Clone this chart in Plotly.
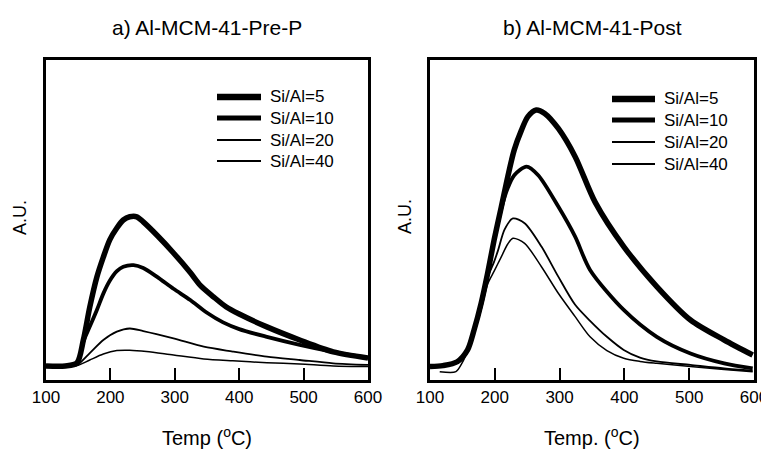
import plotly.graph_objects as go

# ---------------- data ----------------
series_names = ["Si/Al=5", "Si/Al=10", "Si/Al=20", "Si/Al=40"]

# a) Al-MCM-41-Pre-P
T_a5 = [100, 130, 148, 158, 168, 179, 189, 199, 210, 220, 230, 241, 251, 272, 298, 324, 340, 360, 380, 400, 443, 494, 546, 600]
A_a5 = [4.4, 4.4, 5.3, 12.5, 22.8, 32.2, 38.4, 43.8, 47.5, 50, 51, 51, 49.4, 45.3, 39.7, 33.6, 29.5, 26, 22.8, 20.6, 16.6, 12.5, 8.8, 6.9]
T_a10 = [100, 130, 148, 158, 168, 179, 189, 199, 210, 220, 236, 251, 272, 298, 324, 350, 375, 400, 443, 494, 546, 600]
A_a10 = [4.4, 4.4, 5.3, 12, 16.7, 21.9, 27, 31, 34, 35.4, 35.9, 35, 32.3, 28.5, 25, 21, 18, 15.9, 13.5, 11, 8.8, 6.9]
T_a20 = [100, 140, 148, 168, 189, 210, 230, 251, 298, 345, 390, 443, 494, 546, 600]
A_a20 = [4.4, 4.4, 4.6, 8.4, 12.5, 15.1, 16.1, 15.3, 13, 10.4, 8.9, 7.3, 6.25, 5.2, 4.7]
T_a40 = [100, 140, 150, 168, 189, 210, 230, 256, 298, 345, 390, 443, 494, 546, 600]
A_a40 = [4.4, 4.4, 4.6, 6.25, 8.1, 9.2, 9.3, 8.9, 7.8, 6.6, 6.0, 5.4, 5.0, 4.4, 4.2]

# b) Al-MCM-41-Post
T_b5 = [100, 120, 142, 158, 168, 179, 189, 199, 210, 220, 230, 241, 251, 264, 277, 298, 324, 355, 399, 450, 502, 554, 598]
A_b5 = [4.2, 4.5, 5.7, 9.4, 15.6, 24, 33.4, 43.8, 54, 63.5, 71.9, 78, 82.3, 84.4, 83.3, 78.6, 69.8, 55.5, 41.7, 29.2, 18.75, 12.5, 7.8]
T_b10 = [100, 120, 142, 158, 168, 179, 189, 199, 212, 220, 230, 249, 267, 298, 324, 347, 399, 450, 502, 554, 598]
A_b10 = [4.2, 4.5, 5.7, 9.4, 15.6, 24, 33.4, 43.8, 55, 60, 64, 66.7, 64, 54.2, 44.8, 34.4, 21.9, 13.5, 8.3, 5.2, 3.6]
T_b20 = [100, 120, 142, 158, 168, 179, 189, 199, 205, 215, 228, 246, 272, 298, 324, 347, 373, 399, 424, 450, 502, 554, 598]
A_b20 = [4.2, 4.5, 5.7, 9.4, 15.6, 24, 32, 37, 40.5, 47, 50.5, 49, 41.7, 32.3, 23.5, 18.5, 13.5, 9.4, 7, 5.8, 4.7, 3.6, 2.9]
T_b40 = [115, 140, 150, 158, 168, 179, 189, 199, 210, 220, 228, 246, 272, 298, 324, 347, 373, 399, 424, 450, 502, 554, 598]
A_b40 = [2.6, 2.6, 5.5, 9, 14.5, 22, 30, 34, 38.5, 42.5, 44.3, 42.7, 35.4, 27.1, 19.8, 13.5, 9.2, 6.8, 5.8, 5.2, 4.2, 3.3, 2.6]

x_ticks = [100, 200, 300, 400, 500, 600]
panel_titles = ["a) Al-MCM-41-Pre-P", "b) Al-MCM-41-Post"]
x_titles = ["Temp (<sup>o</sup>C)", "Temp. (<sup>o</sup>C)"]
y_title = "A.U."

# styles
curve_widths = [5.5, 3.8, 1.8, 1.5]
legend_widths = [6.5, 4.8, 2, 2]
FONT = "Arial, Liberation Sans, sans-serif"

# The page body has an 8px margin, so the figure is sized to the remaining
# window and every reference pixel position is shifted by that offset.
OFF = 8
W, H = 769 - OFF, 450 - OFF


def px(x):
    return (x - OFF) / W


def py(y):
    return 1 - (y - OFF) / H


fig = go.Figure()
left = [(T_a5, A_a5), (T_a10, A_a10), (T_a20, A_a20), (T_a40, A_a40)]
right = [(T_b5, A_b5), (T_b10, A_b10), (T_b20, A_b20), (T_b40, A_b40)]
for i, (t, a) in enumerate(left):
    fig.add_trace(go.Scatter(x=t, y=a, mode="lines", name=series_names[i], showlegend=False,
                             line=dict(color="black", width=curve_widths[i], shape="spline",
                                       smoothing=0.8),
                             xaxis="x", yaxis="y"))
for i, (t, a) in enumerate(right):
    fig.add_trace(go.Scatter(x=t, y=a, mode="lines", name=series_names[i], showlegend=False,
                             line=dict(color="black", width=curve_widths[i], shape="spline",
                                       smoothing=0.8),
                             xaxis="x2", yaxis="y2"))

# plot-area pixel boxes in the reference
xdoms_px = [(46, 368), (430, 754)]
ydom_px = (60, 380)
xdoms = [[px(a), px(b)] for a, b in xdoms_px]
ydom = [py(ydom_px[1]), py(ydom_px[0])]

axis_common = dict(showline=True, linecolor="black", linewidth=3, mirror=True,
                   showgrid=False, zeroline=False)
xaxis_common = dict(range=[100, 600], tickvals=x_ticks, ticks="inside",
                    ticklen=12, tickwidth=2, tickcolor="black", tickfont=dict(size=17),
                    ticklabeloverflow="allow")
fig.update_layout(
    width=W, height=H,
    margin=dict(l=0, r=0, t=0, b=0, pad=0, autoexpand=False),
    paper_bgcolor="white", plot_bgcolor="white",
    font=dict(family=FONT, color="black", size=17),
    xaxis=dict(domain=xdoms[0], anchor="y", **xaxis_common, **axis_common),
    yaxis=dict(domain=ydom, range=[0, 100], showticklabels=False, ticks="",
               anchor="x", **axis_common),
    xaxis2=dict(domain=xdoms[1], anchor="y2", **xaxis_common, **axis_common),
    yaxis2=dict(domain=ydom, range=[0, 100], showticklabels=False, ticks="",
                anchor="x2", **axis_common),
    showlegend=False,
)

ann = []
shapes = []
for i in range(2):
    cx = (xdoms[i][0] + xdoms[i][1]) / 2
    ann.append(dict(text=panel_titles[i], x=cx, y=py(28), xref="paper", yref="paper",
                    showarrow=False, font=dict(size=21), xanchor="center", yanchor="middle"))
    ann.append(dict(text=x_titles[i], x=cx, y=py(450), xref="paper", yref="paper",
                    showarrow=False, font=dict(size=20), xanchor="center", yanchor="bottom",
                    borderpad=0))
for xp in (20, 405):
    ann.append(dict(text=y_title, x=px(xp), y=py(217), xref="paper", yref="paper",
                    showarrow=False, textangle=-90, font=dict(size=18),
                    xanchor="center", yanchor="middle"))

# legends (one per panel)
legend_cfg = [
    dict(x0=217, x1=261, tx=268, rows=[97, 118, 140, 161]),
    dict(x0=612, x1=655, tx=662, rows=[99, 120, 142, 164]),
]
for cfg in legend_cfg:
    for i, name in enumerate(series_names):
        yy = py(cfg["rows"][i])
        shapes.append(dict(type="line", xref="paper", yref="paper",
                           x0=px(cfg["x0"]), x1=px(cfg["x1"]), y0=yy, y1=yy,
                           line=dict(color="black", width=legend_widths[i])))
        ann.append(dict(text=name, x=px(cfg["tx"]), y=yy, xref="paper", yref="paper",
                        showarrow=False, font=dict(size=17), xanchor="left", yanchor="middle"))

fig.update_layout(annotations=ann, shapes=shapes)

fig.write_html("out.html")
